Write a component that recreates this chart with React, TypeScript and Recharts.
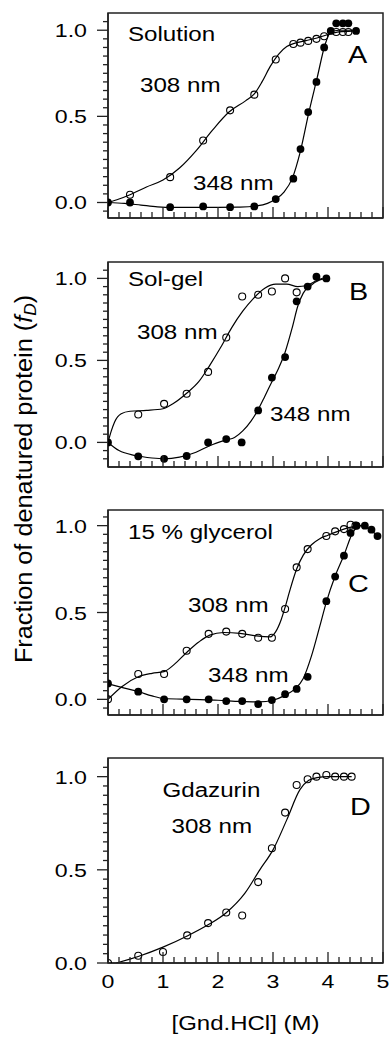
import React from 'react';
import { ComposedChart, Line, Scatter, XAxis, YAxis, ReferenceArea } from 'recharts';

const FONT = '"Liberation Sans", Arial, Helvetica, sans-serif';
const INK = '#000';
const FRAME = '#222';

// ---------- axis ticks ----------
const X_TICKS = [0, 0.2, 0.4, 0.6, 0.8, 1, 1.2, 1.4, 1.6, 1.8, 2, 2.2, 2.4, 2.6, 2.8, 3, 3.2, 3.4, 3.6, 3.8, 4, 4.2, 4.4, 4.6, 4.8, 5];
const X_MAJOR = [0, 1, 2, 3, 4, 5];
const X_LABELS = ['0', '1', '2', '3', '4', '5'];
const Y_TICKS = [-0.1, -0.05, 0, 0.05, 0.1, 0.15, 0.2, 0.25, 0.3, 0.35, 0.4, 0.45, 0.5, 0.55, 0.6, 0.65, 0.7, 0.75, 0.8, 0.85, 0.9, 0.95, 1, 1.05];
const Y_MAJOR = [0, 0.5, 1];
const Y_LABELS = ['0.0', '0.5', '1.0'];

// ---------- Panel A: Solution ----------
const aOpenX = [0.4, 1.13, 1.73, 2.22, 2.66, 3.05, 3.37, 3.5, 3.64, 3.79, 3.93, 4.15, 4.27, 4.37];
const aOpenY = [0.045, 0.147, 0.36, 0.535, 0.626, 0.83, 0.92, 0.928, 0.938, 0.95, 0.965, 0.99, 0.99, 0.99];
const aFillX = [0, 0.4, 1.13, 1.73, 2.22, 2.66, 3.05, 3.37, 3.5, 3.64, 3.79, 3.93, 4.05, 4.15, 4.27, 4.37, 4.51];
const aFillY = [0, 0, -0.027, -0.023, -0.027, -0.023, 0.02, 0.138, 0.31, 0.525, 0.7, 0.9, 0.996, 1.04, 1.04, 1.04, 0.996];
const aFitOpenX = [0, 0.2, 0.4, 0.7, 1.0, 1.3, 1.6, 1.9, 2.2, 2.5, 2.66, 2.8, 2.95, 3.1, 3.25, 3.4, 3.6, 3.8, 4.0, 4.2, 4.45];
const aFitOpenY = [0, 0.02, 0.045, 0.09, 0.13, 0.2, 0.3, 0.42, 0.525, 0.59, 0.63, 0.7, 0.79, 0.86, 0.905, 0.925, 0.94, 0.955, 0.975, 0.99, 0.995];
const aFitFillX = [0, 0.3, 0.6, 0.9, 1.2, 1.6, 2.0, 2.4, 2.7, 2.9, 3.05, 3.2, 3.35, 3.5, 3.65, 3.8, 3.95, 4.05, 4.2, 4.5];
const aFitFillY = [0, -0.005, -0.015, -0.025, -0.028, -0.028, -0.028, -0.027, -0.02, -0.005, 0.02, 0.06, 0.14, 0.3, 0.52, 0.72, 0.92, 0.99, 1.0, 1.0];

// ---------- Panel B: Sol-gel ----------
const bOpenX = [0.55, 1.02, 1.43, 1.82, 2.15, 2.44, 2.73, 2.98, 3.22, 3.43];
const bOpenY = [0.17, 0.235, 0.297, 0.43, 0.64, 0.89, 0.9, 0.92, 1.0, 0.915];
const bFillX = [0, 0.55, 1.02, 1.43, 1.82, 2.15, 2.43, 2.73, 2.98, 3.22, 3.43, 3.63, 3.79, 3.97];
const bFillY = [0, -0.085, -0.1, -0.083, 0.0, 0.02, 0.0, 0.195, 0.395, 0.52, 0.86, 0.95, 1.01, 1.0];
const bFitOpenX = [0, 0.06, 0.12, 0.24, 0.4, 0.7, 1.0, 1.2, 1.43, 1.65, 1.85, 2.05, 2.25, 2.45, 2.65, 2.85, 3.05, 3.25, 3.45, 3.6, 3.75, 3.9];
const bFitOpenY = [0, 0.07, 0.125, 0.175, 0.19, 0.195, 0.205, 0.24, 0.3, 0.37, 0.47, 0.58, 0.7, 0.8, 0.88, 0.94, 0.965, 0.965, 0.95, 0.955, 0.98, 1.0];
const bFitFillX = [0, 0.2, 0.5, 0.8, 1.02, 1.3, 1.6, 1.85, 2.15, 2.3, 2.45, 2.6, 2.73, 2.85, 2.98, 3.1, 3.22, 3.35, 3.45, 3.55, 3.7, 3.85, 3.97];
const bFitFillY = [0, -0.05, -0.08, -0.095, -0.1, -0.09, -0.06, -0.02, 0.015, 0.03, 0.07, 0.13, 0.2, 0.28, 0.37, 0.45, 0.55, 0.7, 0.83, 0.91, 0.96, 0.99, 1.0];

// ---------- Panel C: 15 % glycerol ----------
const cOpenX = [0, 0.55, 1.02, 1.43, 1.83, 2.15, 2.44, 2.73, 2.98, 3.22, 3.43, 3.63, 3.97, 4.13, 4.29, 4.41, 4.5];
const cOpenY = [0, 0.146, 0.146, 0.28, 0.377, 0.39, 0.377, 0.355, 0.355, 0.52, 0.76, 0.865, 0.94, 0.967, 0.98, 1.005, 1.0];
const cFillX = [0, 0.55, 1.02, 1.43, 1.83, 2.15, 2.44, 2.73, 2.98, 3.22, 3.43, 3.63, 3.97, 4.13, 4.29, 4.41, 4.52, 4.67, 4.79, 4.9];
const cFillY = [0.092, 0.044, 0.0, 0.0, 0.0, -0.01, -0.01, -0.027, -0.004, 0.03, 0.06, 0.13, 0.565, 0.707, 0.827, 0.958, 1.0, 1.0, 0.977, 0.94];
const cFitOpenX = [0, 0.25, 0.55, 0.8, 1.02, 1.2, 1.43, 1.65, 1.85, 2.1, 2.4, 2.7, 2.95, 3.05, 3.15, 3.22, 3.3, 3.43, 3.55, 3.7, 3.85, 4.0, 4.2, 4.4, 4.6];
const cFitOpenY = [0, 0.073, 0.13, 0.15, 0.16, 0.2, 0.27, 0.33, 0.37, 0.385, 0.38, 0.365, 0.36, 0.39, 0.46, 0.53, 0.62, 0.75, 0.83, 0.89, 0.925, 0.945, 0.97, 0.99, 1.0];
const cFitFillX = [0, 0.3, 0.55, 0.8, 1.02, 1.5, 2.0, 2.4, 2.75, 3.0, 3.2, 3.4, 3.55, 3.7, 3.85, 3.97, 4.13, 4.29, 4.45, 4.6, 4.75, 4.9];
const cFitFillY = [0.09, 0.065, 0.045, 0.02, 0.005, 0.0, -0.005, -0.012, -0.015, -0.005, 0.02, 0.06, 0.12, 0.25, 0.42, 0.56, 0.71, 0.83, 0.96, 1.0, 0.98, 0.94];

// ---------- Panel D: Gdazurin ----------
const dOpenX = [0, 0.55, 1.0, 1.44, 1.82, 2.15, 2.44, 2.73, 2.98, 3.22, 3.43, 3.63, 3.79, 3.97, 4.13, 4.29, 4.43];
const dOpenY = [0, 0.039, 0.059, 0.148, 0.214, 0.271, 0.255, 0.434, 0.616, 0.807, 0.955, 0.986, 1.0, 1.009, 1.0, 1.0, 1.0];
const dFitX = [0.15, 0.55, 1.0, 1.44, 1.82, 2.15, 2.49, 2.76, 3.0, 3.25, 3.49, 3.65, 3.8, 4.0, 4.43];
const dFitY = [0, 0.035, 0.085, 0.145, 0.205, 0.27, 0.375, 0.5, 0.607, 0.768, 0.93, 0.98, 0.995, 1.0, 1.0];

const pts = (xs: number[], ys: number[]) => xs.map((x, i) => ({ x, y: ys[i] }));

type Lbl = { text: string; x: number; y: number; size: number; sx: number };

type PanelProps = {
  top: number;
  height: number;
  yDomain: [number, number];
  open: { x: number; y: number }[];
  filled?: { x: number; y: number }[];
  openFit: { x: number; y: number }[];
  filledFit?: { x: number; y: number }[];
  labels: Lbl[];
  showXLabels: boolean;
};

const PLOT_TOP = 13;
const PLOT_H = 205;
const XAXIS_H = 2;

function StretchText({ x, y, size, sx, children, anchor = 'start' }: any) {
  return (
    <text
      transform={`translate(${x},${y}) scale(${sx},1)`}
      fontFamily={FONT}
      fontSize={size}
      fill={INK}
      textAnchor={anchor}
    >
      {children}
    </text>
  );
}

function Panel({ top, height, yDomain, open, filled, openFit, filledFit, labels, showXLabels }: PanelProps) {
  const yTicks = Y_TICKS.filter((t) => t >= yDomain[0] - 1e-9 && t <= yDomain[1] + 1e-9);
  const xTick = (p: any) => {
    const { x, y, payload } = p;
    const v = payload.value;
    const mi = X_MAJOR.indexOf(v);
    const major = mi >= 0;
    return (
      <g key={`xt-${v}`}>
        <line x1={x} x2={x} y1={y} y2={y - (major ? 11 : 6)} stroke={FRAME} strokeWidth={1.3} />
        {major && showXLabels ? (
          <StretchText x={x} y={y + 25} size={19} sx={1.22} anchor="middle">
            {X_LABELS[mi]}
          </StretchText>
        ) : null}
      </g>
    );
  };
  const yTick = (p: any) => {
    const { x, y, payload } = p;
    const v = payload.value;
    const mi = Y_MAJOR.findIndex((m) => Math.abs(m - v) < 1e-9);
    const major = mi >= 0;
    return (
      <g key={`yt-${v}`}>
        <line x1={x} x2={x - (major ? 11 : 5)} y1={y} y2={y} stroke={FRAME} strokeWidth={1.3} />
        {major ? (
          <StretchText x={x - 21} y={y + 7} size={19} sx={1.22} anchor="end">
            {Y_LABELS[mi]}
          </StretchText>
        ) : null}
      </g>
    );
  };
  const openShape = (p: any) => (
    <circle cx={p.cx} cy={p.cy} r={3.5} fill="none" stroke={INK} strokeWidth={1.1} />
  );
  const fillShape = (p: any) => <circle cx={p.cx} cy={p.cy} r={3.9} fill={INK} stroke="none" />;
  return (
    <div style={{ position: 'absolute', left: 0, top, width: 391, height }}>
      <ComposedChart
        width={391}
        height={height}
        margin={{ top: PLOT_TOP, right: 8, left: 0, bottom: height - PLOT_TOP - PLOT_H - XAXIS_H }}
      >
        <ReferenceArea x1={0} x2={5} y1={yDomain[0]} y2={yDomain[1]} fill="none" stroke={FRAME} strokeWidth={1.5} />
        <XAxis
          type="number"
          dataKey="x"
          domain={[0, 5]}
          ticks={X_TICKS}
          interval={0}
          allowDataOverflow
          height={XAXIS_H}
          tickSize={0}
          tickMargin={0}
          tickLine={false}
          axisLine={{ stroke: FRAME, strokeWidth: 1.5 }}
          tick={xTick}
        />
        <YAxis
          type="number"
          domain={yDomain}
          ticks={yTicks}
          interval={0}
          allowDataOverflow
          width={108}
          tickSize={0}
          tickMargin={0}
          tickLine={false}
          axisLine={{ stroke: FRAME, strokeWidth: 1.5 }}
          tick={yTick}
        />
        <Line data={openFit} dataKey="y" type="monotone" stroke={INK} strokeWidth={1.2} dot={false} activeDot={false} isAnimationActive={false} />
        {filledFit ? (
          <Line data={filledFit} dataKey="y" type="monotone" stroke={INK} strokeWidth={1.2} dot={false} activeDot={false} isAnimationActive={false} />
        ) : null}
        <Scatter data={open} dataKey="y" shape={openShape} isAnimationActive={false} />
        {filled ? <Scatter data={filled} dataKey="y" shape={fillShape} isAnimationActive={false} /> : null}
      </ComposedChart>
      <svg style={{ position: 'absolute', left: 0, top: 0, pointerEvents: 'none' }} width={391} height={height}>
        {labels.map((l, i) => (
          <StretchText key={i} x={l.x} y={l.y - top} size={l.size} sx={l.sx}>
            {l.text}
          </StretchText>
        ))}
      </svg>
    </div>
  );
}

const TXT = 21;
const TSX = 1.15;
const LET = 24;

export default function App() {
  return (
    <div style={{ position: 'absolute', left: 0, top: 0, width: 391, height: 1040, background: '#fff' }}>
      <Panel
        top={0}
        height={248}
        yDomain={[-0.09, 1.1]}
        open={pts(aOpenX, aOpenY)}
        filled={pts(aFillX, aFillY)}
        openFit={pts(aFitOpenX, aFitOpenY)}
        filledFit={pts(aFitFillX, aFitFillY)}
        showXLabels={false}
        labels={[
          { text: 'Solution', x: 128, y: 41, size: TXT, sx: TSX },
          { text: '308 nm', x: 140, y: 91.5, size: TXT, sx: TSX },
          { text: '348 nm', x: 193, y: 190, size: TXT, sx: TSX },
          { text: 'A', x: 348, y: 63, size: LET, sx: 1.2 },
        ]}
      />
      <Panel
        top={249}
        height={248}
        yDomain={[-0.15, 1.1]}
        open={pts(bOpenX, bOpenY)}
        filled={pts(bFillX, bFillY)}
        openFit={pts(bFitOpenX, bFitOpenY)}
        filledFit={pts(bFitFillX, bFitFillY)}
        showXLabels={false}
        labels={[
          { text: 'Sol-gel', x: 128, y: 285.5, size: TXT, sx: TSX },
          { text: '308 nm', x: 137, y: 339, size: TXT, sx: TSX },
          { text: '348 nm', x: 270, y: 421, size: TXT, sx: TSX },
          { text: 'B', x: 349, y: 300, size: LET, sx: 1.2 },
        ]}
      />
      <Panel
        top={497}
        height={248}
        yDomain={[-0.09, 1.09]}
        open={pts(cOpenX, cOpenY)}
        filled={pts(cFillX, cFillY)}
        openFit={pts(cFitOpenX, cFitOpenY)}
        filledFit={pts(cFitFillX, cFitFillY)}
        showXLabels={false}
        labels={[
          { text: '15 % glycerol', x: 128, y: 539, size: TXT, sx: TSX },
          { text: '308 nm', x: 188, y: 611.5, size: TXT, sx: TSX },
          { text: '348 nm', x: 208, y: 681.5, size: TXT, sx: TSX },
          { text: 'C', x: 348, y: 591.5, size: LET, sx: 1.2 },
        ]}
      />
      <Panel
        top={745}
        height={295}
        yDomain={[0, 1.1]}
        open={pts(dOpenX, dOpenY)}
        openFit={pts(dFitX, dFitY)}
        showXLabels={true}
        labels={[
          { text: 'Gdazurin', x: 162.5, y: 796.5, size: TXT, sx: TSX },
          { text: '308 nm', x: 171.5, y: 833, size: TXT, sx: TSX },
          { text: 'D', x: 350, y: 815, size: LET, sx: 1.2 },
        ]}
      />
      <svg
        style={{ position: 'absolute', left: 0, top: 0, pointerEvents: 'none' }}
        width={391}
        height={1040}
      >
        <text
          transform="translate(31.5,479) rotate(-90) scale(1.15,1.1)"
          fontFamily={FONT}
          fontSize={22}
          fill={INK}
          textAnchor="middle"
        >
          Fraction of denatured protein (
          <tspan fontStyle="italic">f</tspan>
          <tspan fontStyle="italic" fontSize={15} dy={4}>D</tspan>
          <tspan dy={-4}>)</tspan>
        </text>
        <text
          transform="translate(245.5,1030) scale(1.2,1)"
          fontFamily={FONT}
          fontSize={20}
          fill={INK}
          textAnchor="middle"
        >
          [Gnd.HCl] (M)
        </text>
      </svg>
    </div>
  );
}
